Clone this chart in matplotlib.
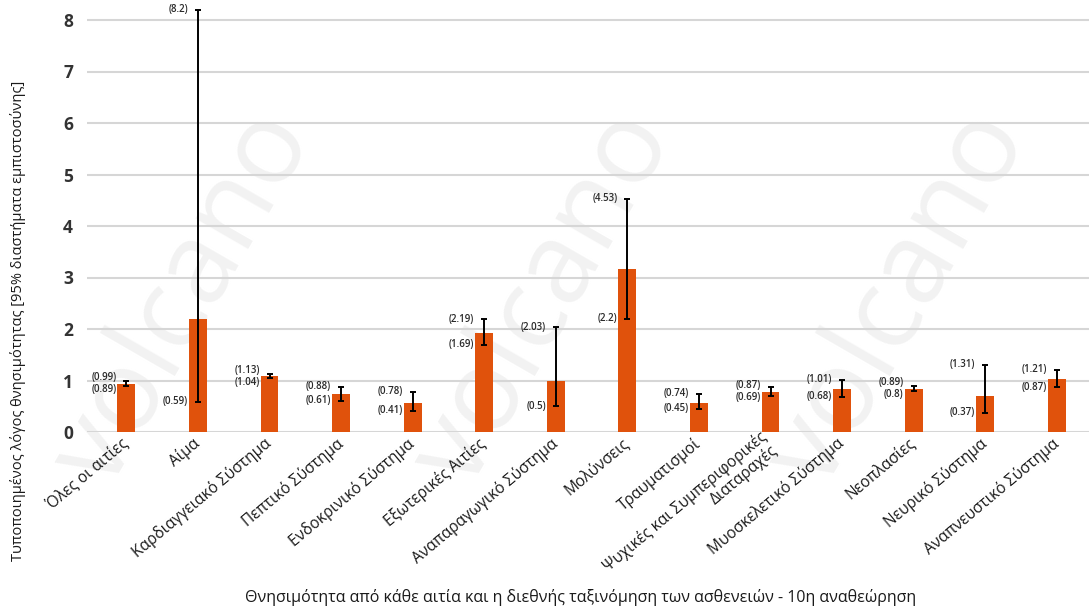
import matplotlib
matplotlib.use("Agg")
import matplotlib.pyplot as plt
import numpy as np

categories = [
    "Όλες οι αιτίες", "Αίμα", "Καρδιαγγειακό Σύστημα", "Πεπτικό Σύστημα",
    "Ενδοκρινικό Σύστημα", "Εξωτερικές Αιτίες", "Αναπαραγωγικό Σύστημα",
    "Μολύνσεις", "Τραυματισμοί", "Ψυχικές και Συμπεριφορικές\nΔιαταραχές",
    "Μυοσκελετικό Σύστημα", "Νεοπλασίες", "Νευρικό Σύστημα",
    "Αναπνευστικό Σύστημα",
]
smr = [0.94, 2.2, 1.08, 0.73, 0.57, 1.93, 1.0, 3.17, 0.57, 0.77, 0.83, 0.84, 0.69, 1.03]
ci_low = [0.89, 0.59, 1.04, 0.61, 0.41, 1.69, 0.5, 2.2, 0.45, 0.69, 0.68, 0.8, 0.37, 0.87]
ci_high = [0.99, 8.2, 1.13, 0.88, 0.78, 2.19, 2.03, 4.53, 0.74, 0.87, 1.01, 0.89, 1.31, 1.21]
yticks = [0, 1, 2, 3, 4, 5, 6, 7, 8]

FONT = ["Open Sans", "DejaVu Sans"]
plt.rcParams["font.family"] = FONT

W, H = 1089, 613
fig = plt.figure(figsize=(W / 100, H / 100), dpi=100)
fig.patch.set_facecolor("white")

# faint watermark (behind the chart)
for (cx, cy) in [(185, 300), (545, 300), (900, 300)]:
    t = fig.text(cx / W, 1 - cy / H, "volcano", rotation=60, fontsize=82,
                 color="#f2f2f2", ha="center", va="center", family=FONT)
    t.set_zorder(-5)

ax = fig.add_axes([87 / W, 1 - 432 / H, (W - 87) / W, 432 / H])
ax.set_zorder(1)
ax.set_facecolor("none")
x = np.arange(len(categories))
ax.bar(x, smr, width=0.25, color="#E0520C", zorder=3)
yerr = [np.array(smr) - np.array(ci_low), np.array(ci_high) - np.array(smr)]
ax.errorbar(x, smr, yerr=yerr, fmt="none", ecolor="black", elinewidth=1.4,
            capsize=2.3, capthick=1.4, zorder=4, clip_on=False)

ax.set_xlim(-0.55, 13.45)
ax.set_ylim(0, 432 / 51.5)
ax.set_yticks(yticks)
ax.set_yticklabels([str(v) for v in yticks], fontsize=12.5, fontweight="bold",
                   color="#333333")
ax.grid(axis="y", color="#d6d6d6", linewidth=1.5, zorder=0)
ax.set_axisbelow(True)
for s in ax.spines.values():
    s.set_visible(False)
ax.tick_params(axis="y", length=0, pad=10)
ax.tick_params(axis="x", length=0, pad=7)

ax.set_xticks(x)
ax.set_xticklabels(categories, rotation=40, ha="right", va="center",
                   rotation_mode="anchor", fontsize=11.2, color="#1a1a1a",
                   multialignment="right", linespacing=1.0)

# CI labels
unit_px = 51.5
min_gap = 12 / unit_px
for i in range(len(categories)):
    lo, hi = ci_low[i], ci_high[i]
    ylo, yhi = lo, hi
    if hi - lo < min_gap:
        mid = (hi + lo) / 2
        ylo, yhi = mid - min_gap / 2, mid + min_gap / 2
    for val, ypos in ((hi, yhi), (lo, ylo)):
        ax.annotate("(%g)" % val, xy=(x[i], ypos), xytext=(-10, 0),
                    textcoords="offset pixels", ha="right", va="center",
                    fontsize=7, color="#2a2a2a", fontweight="semibold",
                    annotation_clip=False)

fig.text(18 / W, 1 - 321 / H,
         "Τυποποιημένος λόγος θνησιμότητας [95% διαστήματα εμπιστοσύνης]",
         rotation=90, ha="center", va="center", fontsize=10.5, color="#1a1a1a")
fig.text(581 / W, 1 - 598 / H,
         "Θνησιμότητα από κάθε αιτία και η διεθνής ταξινόμηση των ασθενειών - 10η αναθεώρηση",
         ha="center", va="center", fontsize=11.5, color="#1a1a1a")

fig.savefig("out.png", dpi=100, facecolor="white")
